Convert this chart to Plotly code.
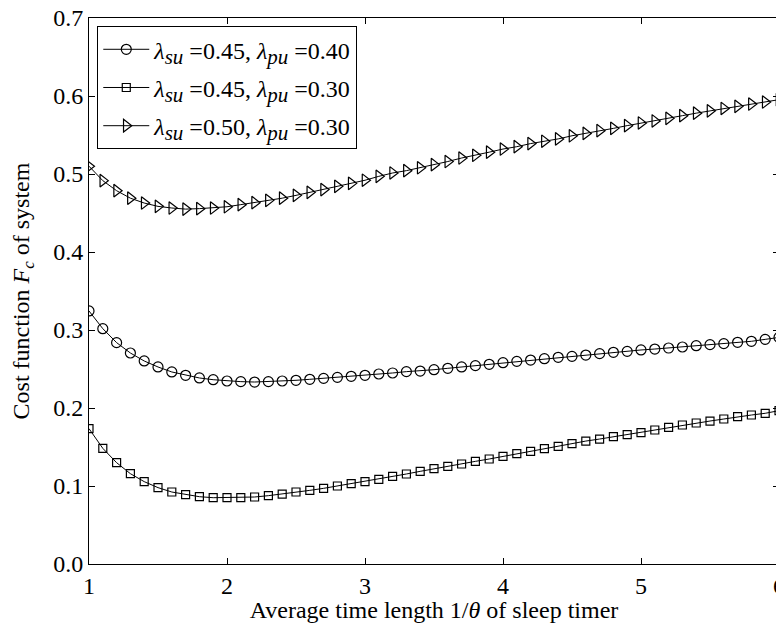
import plotly.graph_objects as go

x_vals = [round(1 + 0.1 * i, 1) for i in range(51)]

cost_su045_pu040 = [
    0.3244, 0.3017, 0.2838, 0.2705, 0.2603, 0.2526, 0.2462, 0.2419, 0.2385, 0.2363,
    0.2346, 0.2338, 0.2333, 0.2338, 0.2346, 0.2355, 0.2368, 0.2380, 0.2393, 0.2406,
    0.2419, 0.2436, 0.2449, 0.2466, 0.2474, 0.2491, 0.2509, 0.2526, 0.2543, 0.2560,
    0.2581, 0.2598, 0.2615, 0.2632, 0.2650, 0.2662, 0.2679, 0.2697, 0.2714, 0.2726,
    0.2744, 0.2756, 0.2769, 0.2782, 0.2799, 0.2812, 0.2825, 0.2842, 0.2855, 0.2880,
    0.2905,
]

cost_su045_pu030 = [
    0.1735, 0.1483, 0.1299, 0.1158, 0.1056, 0.0979, 0.0923, 0.0889, 0.0863, 0.0850,
    0.0850, 0.0850, 0.0859, 0.0876, 0.0897, 0.0923, 0.0944, 0.0970, 0.1000, 0.1030,
    0.1056, 0.1085, 0.1124, 0.1154, 0.1188, 0.1222, 0.1252, 0.1282, 0.1316, 0.1346,
    0.1380, 0.1414, 0.1444, 0.1478, 0.1508, 0.1542, 0.1576, 0.1602, 0.1632, 0.1658,
    0.1684, 0.1718, 0.1752, 0.1782, 0.1808, 0.1833, 0.1859, 0.1889, 0.1910, 0.1932,
    0.1966,
]

cost_su050_pu030 = [
    0.5100, 0.4915, 0.4786, 0.4690, 0.4628, 0.4585, 0.4564, 0.4550, 0.4556, 0.4564,
    0.4580, 0.4607, 0.4632, 0.4662, 0.4690, 0.4726, 0.4765, 0.4800, 0.4842, 0.4880,
    0.4920, 0.4970, 0.5013, 0.5043, 0.5080, 0.5120, 0.5160, 0.5205, 0.5240, 0.5280,
    0.5320, 0.5350, 0.5390, 0.5420, 0.5450, 0.5490, 0.5520, 0.5556, 0.5585, 0.5620,
    0.5654, 0.5680, 0.5714, 0.5748, 0.5780, 0.5810, 0.5840, 0.5868, 0.5897, 0.5923,
    0.5953,
]

lambda_su = ["0.45", "0.45", "0.50"]
lambda_pu = ["0.40", "0.30", "0.30"]
SUB = '<sub><span style="font-size:21px"><i>{}</i></span></sub>'
series_names = [
    f"<i>λ</i>{SUB.format('su')} =" + su + f", <i>λ</i>{SUB.format('pu')} =" + pu
    for su, pu in zip(lambda_su, lambda_pu)
]
x_ticks = [1, 2, 3, 4, 5, 6]
y_ticks = [0.0, 0.1, 0.2, 0.3, 0.4, 0.5, 0.6, 0.7]

FONT = "Liberation Serif, Times New Roman, serif"
FS = 24

fig = go.Figure()
styles = [
    dict(symbol="circle-open", size=10),
    dict(symbol="square-open", size=8),
    dict(symbol="triangle-right-open", size=11),
]
for i, (name, ys, st) in enumerate(zip(series_names, [cost_su045_pu040, cost_su045_pu030, cost_su050_pu030], styles)):
    fig.add_trace(go.Scatter(
        x=x_vals, y=ys, name=name, mode="lines+markers", legendgroup=f"g{i}",
        line=dict(color="black", width=1),
        marker=dict(symbol=st["symbol"], size=st["size"], color="black",
                    line=dict(color="black", width=1.2)),
    ))

# page body adds an 8px offset; figure sized to fit the 784x623 window
fig.update_layout(
    width=776, height=615,
    margin=dict(l=81, r=5, t=10, b=59),
    paper_bgcolor="white", plot_bgcolor="white",
    font=dict(family=FONT, size=FS, color="black"),
    showlegend=True,
    legend=dict(
        x=0.012, y=0.985, xanchor="left", yanchor="top",
        bordercolor="black", borderwidth=1, bgcolor="white",
        font=dict(family=FONT, size=FS),
        tracegroupgap=4, itemwidth=46,
    ),
)
fig.update_xaxes(
    range=[1, 6], tickvals=x_ticks, ticktext=[str(t) for t in x_ticks],
    ticks="inside", ticklen=6, tickcolor="black", tickwidth=1,
    showline=True, linecolor="black", linewidth=1, mirror="ticks",
    showgrid=False, zeroline=False, automargin=False,
    ticklabeloverflow="allow",
    tickfont=dict(family=FONT, size=FS),
    title=dict(text="Average time length 1/<i>θ</i> of sleep timer",
               font=dict(family=FONT, size=FS), standoff=0),
)
fig.update_yaxes(
    range=[0, 0.7], tickvals=y_ticks, ticktext=[f"{t:.1f}" for t in y_ticks],
    ticks="inside", ticklen=6, tickcolor="black", tickwidth=1,
    showline=True, linecolor="black", linewidth=1, mirror="ticks",
    showgrid=False, zeroline=False, automargin=False,
    ticklabeloverflow="allow",
    tickfont=dict(family=FONT, size=FS),
    title=dict(text="Cost function <i>F</i><sub><i>c</i></sub> of system",
               font=dict(family=FONT, size=FS), standoff=17),
)

fig.write_html("out.html")
